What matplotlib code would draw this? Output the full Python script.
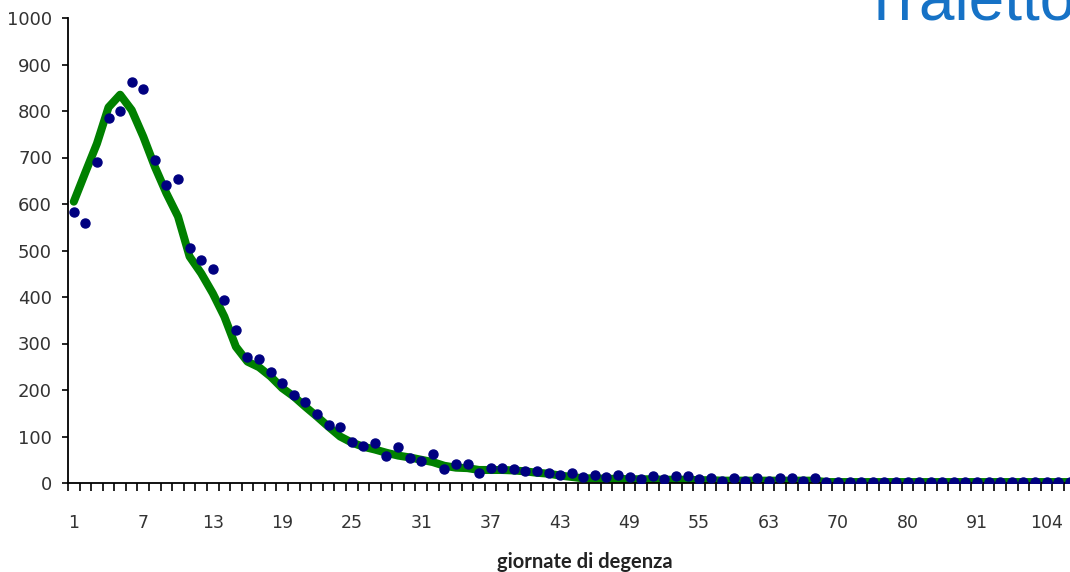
import matplotlib
matplotlib.use('Agg')
from matplotlib import pyplot as plt

plt.rcParams['font.family'] = ['DejaVu Sans']

# day labels of the categories (only every 6th is shown)
days = list(range(1, 56)) + [56, 57, 58, 59, 61, 63, 64, 65, 66, 67, 68, 70,
                             71, 72, 74, 76, 78, 80, 82, 84, 85, 87, 89, 91,
                             93, 95, 97, 99, 101, 104, 106, 110, 115]

# observed counts (dots)
observed = [582, 560, 691, 785, 799, 862, 848, 695, 641, 654,
            505, 479, 461, 394, 329, 270, 266, 238, 215, 189,
            175, 148, 125, 121, 89, 80, 85, 58, 78, 54,
            48, 62, 30, 40, 40, 21, 32, 32, 30, 25,
            26, 22, 17, 22, 12, 17, 12, 17, 12, 8,
            14, 8, 14, 14, 9, 10, 4, 10, 4, 10,
            4, 10, 10, 4, 10, 3, 3, 2, 3, 2,
            3, 2, 3, 2, 3, 2, 3, 2, 3, 2,
            3, 2, 3, 2, 3, 2, 3, 2]

# fitted trend (green line)
trend = [605, 668, 730, 808, 835, 802, 745, 680, 623, 573,
         487, 451, 408, 358, 293, 261, 249, 229, 204, 186,
         164, 143, 121, 100, 87, 78, 72, 65, 59, 55,
         50, 45, 37, 33, 32, 28, 28, 28, 27, 25,
         22, 20, 16, 13, 10, 10, 9, 9, 8, 8,
         8, 7, 7, 7, 6, 6, 5, 5, 5, 5,
         5, 5, 5, 5, 5, 2, 2, 2, 2, 2,
         2, 2, 2, 2, 2, 2, 2, 2, 2, 2,
         2, 2, 2, 2, 2, 2, 2, 2]

y_ticks = list(range(0, 1001, 100))

n = len(days)
idx = list(range(n))

fig = plt.figure(figsize=(10.7, 5.72), dpi=100)
ax = fig.add_axes([68 / 1070, 89 / 572, n * 11.58 / 1070, 465 / 572])

ax.plot(idx, trend, color='#008000', linewidth=5.8, solid_capstyle='round', zorder=2)
ax.plot(idx, observed, linestyle='none', marker='o', markersize=6.5,
        color='#000080', zorder=3)

ax.set_xlim(-0.5, n - 0.5)
ax.set_ylim(0, 1000)

ax.spines['top'].set_visible(False)
ax.spines['right'].set_visible(False)
ax.spines['left'].set_linewidth(1.3)
ax.spines['bottom'].set_linewidth(1.3)

ax.set_yticks(y_ticks)
ax.set_yticklabels([str(v) for v in y_ticks])
ax.tick_params(axis='y', direction='out', length=4.5, width=1.2, pad=7,
               labelsize=13, labelcolor='#333333')

ax.set_xticks(idx[::6])
ax.set_xticklabels([str(days[i]) for i in idx[::6]])
ax.set_xticks([i - 0.5 for i in range(n + 1)], minor=True)
ax.tick_params(axis='x', which='major', length=0, pad=22,
               labelsize=12.5, labelcolor='#333333')
ax.tick_params(axis='x', which='minor', direction='out', length=6, width=1.2)

fig.text(585 / 1070, 1 - 562 / 572, 'giornate di degenza', ha='center', va='center',
         fontsize=14.5, fontweight='bold', family='Lato', color='#222222')

fig.text(862 / 1070, 1 - 20 / 572, 'Traiettorie', ha='left', va='baseline',
         fontsize=46, family='Liberation Sans', color='#1672C6')

fig.savefig('out.png', dpi=100)
